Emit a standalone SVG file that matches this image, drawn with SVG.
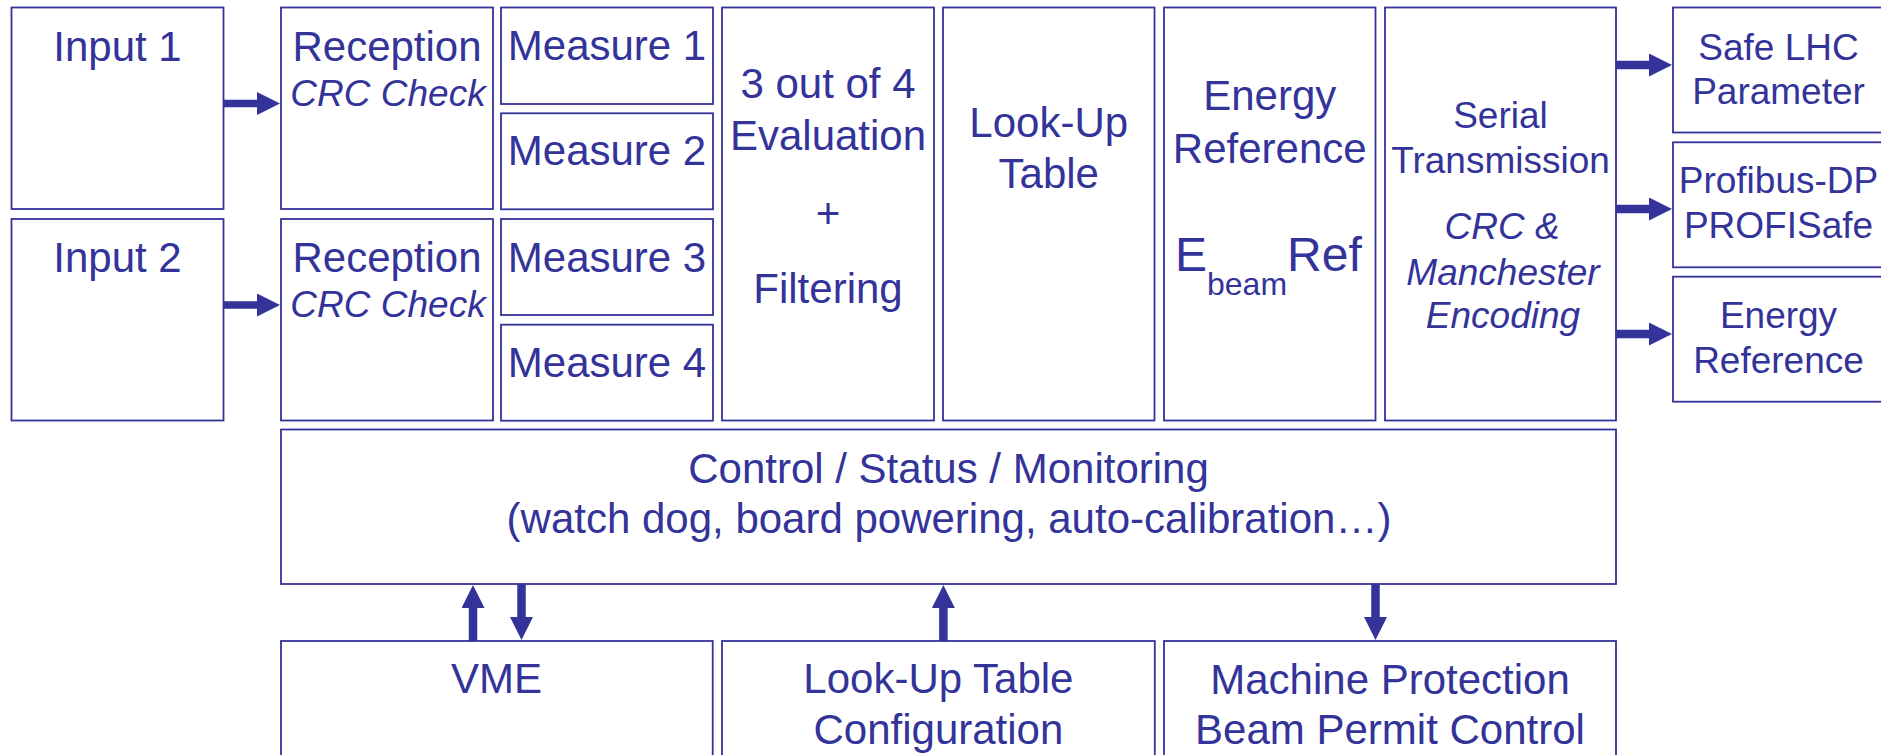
<svg xmlns="http://www.w3.org/2000/svg" width="1881" height="755" viewBox="0 0 1881 755">
  <style>
    .box { fill: #ffffff; stroke: #333399; stroke-width: 1.8; }
    .t { font-family: "Liberation Sans", Arial, sans-serif; fill: #333399; text-anchor: middle; }
    .big { font-size: 42px; }
    .mid { font-size: 37px; }
    .it { font-style: italic; }
    .wire { stroke: #333399; fill: none; }
    .w7 { stroke-width: 7.5; }
    .w8 { stroke-width: 8.5; }
  </style>
  <defs>
    <marker id="head" viewBox="0 0 24 24" refX="0" refY="12" markerWidth="24" markerHeight="23" markerUnits="userSpaceOnUse" orient="auto">
      <path d="M0,0 L24,12 L0,24 Z" fill="#333399"/>
    </marker>
  </defs>
  <rect width="1881" height="755" fill="#ffffff"/>

  <!-- inputs -->
  <g id="input1">
    <rect class="box" x="11.5" y="7.5" width="212" height="201.5"/>
    <text class="t big" x="117.5" y="60.5">Input 1</text>
  </g>
  <g id="input2">
    <rect class="box" x="11.5" y="219" width="212" height="201.5"/>
    <text class="t big" x="117.5" y="271.7">Input 2</text>
  </g>

  <!-- reception stages -->
  <g id="reception1">
    <rect class="box" x="281" y="7.5" width="212" height="201.5"/>
    <text class="t big" x="387" y="60.7">Reception</text>
    <text class="t mid it" x="388" y="106">CRC Check</text>
  </g>
  <g id="reception2">
    <rect class="box" x="281" y="219" width="212" height="201.5"/>
    <text class="t big" x="387" y="271.7">Reception</text>
    <text class="t mid it" x="388" y="317">CRC Check</text>
  </g>

  <!-- measurement channels -->
  <g id="measure1">
    <rect class="box" x="501" y="7.5" width="212" height="96.5"/>
    <text class="t big" x="607" y="60">Measure 1</text>
  </g>
  <g id="measure2">
    <rect class="box" x="501" y="113.3" width="212" height="96"/>
    <text class="t big" x="607" y="165">Measure 2</text>
  </g>
  <g id="measure3">
    <rect class="box" x="501" y="219" width="212" height="96"/>
    <text class="t big" x="607" y="271.7">Measure 3</text>
  </g>
  <g id="measure4">
    <rect class="box" x="501" y="324.7" width="212" height="96"/>
    <text class="t big" x="607" y="376.7">Measure 4</text>
  </g>

  <!-- processing columns -->
  <g id="evaluation">
    <rect class="box" x="722" y="7.5" width="212" height="413"/>
    <text class="t big" x="828" y="98.3">3 out of 4</text>
    <text class="t big" x="828" y="150">Evaluation</text>
    <text class="t big" x="828" y="227.6">+</text>
    <text class="t big" x="828" y="303.3">Filtering</text>
  </g>
  <g id="lookup">
    <rect class="box" x="943" y="7.5" width="211.5" height="413"/>
    <text class="t big" x="1048.75" y="136.7">Look-Up</text>
    <text class="t big" x="1048.75" y="187.7">Table</text>
  </g>
  <g id="energy-ref">
    <rect class="box" x="1164" y="7.5" width="211.5" height="413"/>
    <text class="t big" x="1269.75" y="110">Energy</text>
    <text class="t big" x="1269.75" y="162.7">Reference</text>
    <text class="t" x="1175" y="270.5" style="text-anchor:start;font-size:48px">E<tspan dy="24" style="font-size:32px">beam</tspan><tspan dy="-24">Ref</tspan></text>
  </g>
  <g id="serial">
    <rect class="box" x="1385" y="7.5" width="231" height="413"/>
    <text class="t mid" x="1500.5" y="128.3">Serial</text>
    <text class="t mid" x="1500.5" y="172.7">Transmission</text>
    <text class="t mid it" x="1502" y="239">CRC &amp;</text>
    <text class="t mid it" x="1503" y="285">Manchester</text>
    <text class="t mid it" x="1503" y="328.3">Encoding</text>
  </g>

  <!-- outputs -->
  <g id="out-safe">
    <rect class="box" x="1673" y="7.5" width="212" height="125"/>
    <text class="t mid" x="1778.5" y="60">Safe LHC</text>
    <text class="t mid" x="1778.5" y="104.3">Parameter</text>
  </g>
  <g id="out-profibus">
    <rect class="box" x="1673" y="142.3" width="212" height="125"/>
    <text class="t mid" x="1778.5" y="193.3">Profibus-DP</text>
    <text class="t mid" x="1778.5" y="238.3">PROFISafe</text>
  </g>
  <g id="out-energy">
    <rect class="box" x="1673" y="276.7" width="212" height="125"/>
    <text class="t mid" x="1778.5" y="328.3">Energy</text>
    <text class="t mid" x="1778.5" y="372.7">Reference</text>
  </g>

  <!-- control bar -->
  <g id="control">
    <rect class="box" x="281" y="429.5" width="1335" height="154.5"/>
    <text class="t big" x="948.5" y="482.8">Control / Status / Monitoring</text>
    <text class="t big" x="949" y="533.3">(watch dog, board powering, auto-calibration…)</text>
  </g>

  <!-- bottom interfaces -->
  <g id="vme">
    <rect class="box" x="281" y="641" width="431.7" height="130"/>
    <text class="t big" x="496.5" y="693.3">VME</text>
  </g>
  <g id="lut-config">
    <rect class="box" x="722" y="641" width="432.8" height="130"/>
    <text class="t big" x="938.4" y="693.3">Look-Up Table</text>
    <text class="t big" x="938.4" y="744.3">Configuration</text>
  </g>
  <g id="machine-protection">
    <rect class="box" x="1164" y="641" width="452" height="130"/>
    <text class="t big" x="1390" y="694">Machine Protection</text>
    <text class="t big" x="1390" y="744">Beam Permit Control</text>
  </g>

  <!-- connectors -->
  <g id="connectors">
    <line class="wire w7" x1="223.5" y1="103.5" x2="257" y2="103.5" marker-end="url(#head)"/>
    <line class="wire w7" x1="223.5" y1="305" x2="257" y2="305" marker-end="url(#head)"/>
    <line class="wire w8" x1="1616" y1="65" x2="1649" y2="65" marker-end="url(#head)"/>
    <line class="wire w8" x1="1616" y1="209" x2="1649" y2="209" marker-end="url(#head)"/>
    <line class="wire w8" x1="1616" y1="334" x2="1649" y2="334" marker-end="url(#head)"/>
    <line class="wire w8" x1="473" y1="641" x2="473" y2="608" marker-end="url(#head)"/>
    <line class="wire w8" x1="521.5" y1="584" x2="521.5" y2="617" marker-end="url(#head)"/>
    <line class="wire w8" x1="943.4" y1="641" x2="943.4" y2="608" marker-end="url(#head)"/>
    <line class="wire w8" x1="1375.5" y1="584" x2="1375.5" y2="617" marker-end="url(#head)"/>
  </g>
</svg>
